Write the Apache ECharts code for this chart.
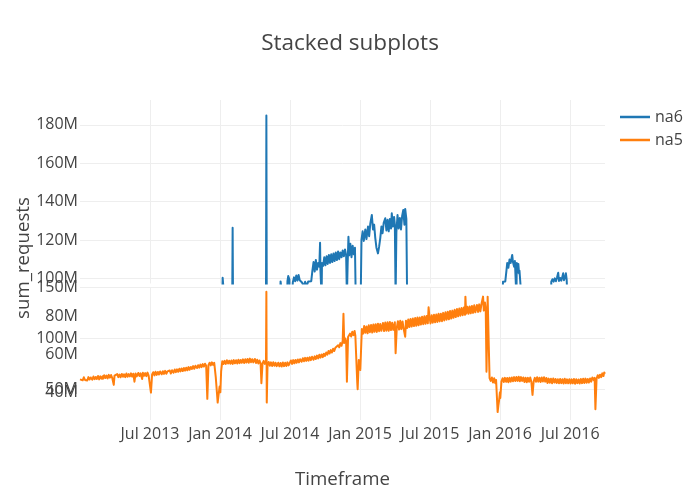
<!DOCTYPE html>
<html><head><meta charset="utf-8">
<script src="https://cdn.jsdelivr.net/npm/echarts/dist/echarts.min.js"></script>
<style>html,body{margin:0;padding:0;background:#fff}#chart{width:700px;height:500px}</style>
</head><body><div id="chart"></div>
<script>
const titleText = 'Stacked subplots';
const xTitle = 'Timeframe';
const yTitle = 'sum_requests';
const seriesNames = ['na6', 'na5'];
const xTickLabels = ['Jul 2013', 'Jan 2014', 'Jul 2014', 'Jan 2015', 'Jul 2015', 'Jan 2016', 'Jul 2016'];
const xRange = ['2012-12-31', '2016-09-30'];
const xLastTick = '2016-07-01';
const topTicks = [100, 120, 140, 160, 180];
const bottomTicksA = [50, 100, 150];
const bottomTicksB = [40, 60, 80];

// na6 (millions) - top subplot
const na6 = [
['2014-01-06',90],['2014-01-07',100.3],['2014-01-10',100.2],['2014-01-11',90],
['2014-02-01',90],['2014-02-02',126.4],['2014-02-03',90],
['2014-04-30',90],['2014-05-01',184.9],['2014-05-02',90],
['2014-06-06',90],['2014-06-07',98.4],['2014-06-11',98.2],['2014-06-12',90],
['2014-06-24',90],['2014-06-25',98.5],['2014-06-27',101.2],['2014-06-30',99.5],['2014-07-01',90],
['2014-07-07',90],['2014-07-09',98.0],['2014-07-12',100.5],['2014-07-15',98.5],['2014-07-18',101.5],['2014-07-21',98.8],['2014-07-24',101.7],['2014-07-27',99.0],['2014-07-30',98.0],
['2014-08-02',97.8],['2014-08-06',96.0],['2014-08-10',98.2],['2014-08-14',96.0],['2014-08-18',98.3],['2014-08-22',97.9],
['2014-08-26',98.5],['2014-08-29',104.0],['2014-09-01',108.5],['2014-09-04',103.5],['2014-09-07',109.6],['2014-09-10',104.5],['2014-09-13',108.0],['2014-09-16',106.0],['2014-09-18',118.6],['2014-09-19',104.0],['2014-09-21',105.0],['2014-09-22',90],['2014-09-23',108.0],
['2014-09-26',106.5],['2014-09-29',111.0],['2014-10-02',106.8],['2014-10-05',111.5],['2014-10-08',107.5],['2014-10-11',112.2],['2014-10-14',108.0],['2014-10-17',112.5],['2014-10-20',108.5],['2014-10-23',113.0],['2014-10-26',109.0],['2014-10-29',113.5],
['2014-11-01',109.5],['2014-11-04',114.0],['2014-11-07',110.0],['2014-11-10',113.5],['2014-11-13',111.0],['2014-11-16',114.5],['2014-11-19',111.5],['2014-11-22',115.0],['2014-11-25',112.0],['2014-11-27',90],['2014-11-29',108.0],
['2014-12-01',121.7],['2014-12-03',112.0],['2014-12-06',118.0],['2014-12-09',111.0],['2014-12-12',117.0],['2014-12-15',112.5],['2014-12-18',116.0],['2014-12-20',90],
['2015-01-02',90],['2015-01-04',120.0],['2015-01-07',124.5],['2015-01-10',119.5],['2015-01-14',125.5],['2015-01-17',120.5],['2015-01-21',127.0],['2015-01-24',122.0],['2015-01-27',128.5],['2015-01-31',133.0],
['2015-02-03',125.5],['2015-02-06',128.0],['2015-02-09',121.0],['2015-02-12',116.0],['2015-02-16',113.0],['2015-02-19',116.5],['2015-02-22',121.0],['2015-02-25',127.0],['2015-02-28',123.5],
['2015-03-03',129.0],['2015-03-07',131.3],['2015-03-10',125.0],['2015-03-13',130.5],['2015-03-16',124.5],['2015-03-19',131.0],['2015-03-22',126.0],['2015-03-24',133.9],['2015-03-27',127.0],['2015-03-30',132.0],
['2015-04-01',128.0],['2015-04-03',90],['2015-04-05',124.0],['2015-04-08',133.0],['2015-04-11',126.0],['2015-04-14',131.5],['2015-04-17',125.5],['2015-04-20',132.5],['2015-04-23',135.6],['2015-04-26',128.0],['2015-04-28',136.2],['2015-05-01',131.0],['2015-05-03',90],
['2016-01-07',90],['2016-01-08',98.2],['2016-01-14',98.4],['2016-01-17',104.0],['2016-01-19',108.0],['2016-01-22',105.5],['2016-01-25',109.8],['2016-01-28',108.0],
['2016-02-01',112.2],['2016-02-03',108.5],['2016-02-06',106.0],['2016-02-08',109.0],['2016-02-12',90],['2016-02-13',108.0],['2016-02-15',103.0],['2016-02-17',107.5],['2016-02-19',102.5],['2016-02-20',104.0],['2016-02-25',90],
['2016-05-12',90],['2016-05-13',98.2],['2016-05-16',99.5],['2016-05-19',98.3],['2016-05-22',100.0],['2016-05-25',98.5],['2016-05-28',100.5],['2016-05-31',102.9],
['2016-06-02',98.6],['2016-06-05',100.2],['2016-06-08',98.8],['2016-06-11',101.0],['2016-06-13',102.6],['2016-06-15',99.0],['2016-06-18',100.5],['2016-06-20',102.6],['2016-06-22',99.5],['2016-06-24',90]
];

// na5 (millions) - bottom subplot
const na5 = [
['2012-12-31',46.8],
['2013-01-01',46.0],['2013-01-04',47.6],['2013-01-07',46.3],['2013-01-10',47.9],['2013-01-13',46.5],['2013-01-16',47.4],['2013-01-19',46.2],['2013-01-22',48.0],['2013-01-25',46.7],['2013-01-28',47.8],
['2013-02-01',46.6],['2013-02-04',48.3],['2013-02-07',46.9],['2013-02-10',48.1],['2013-02-13',47.0],['2013-02-16',48.6],['2013-02-19',46.8],['2013-02-22',48.4],['2013-02-25',47.2],['2013-02-28',48.5],
['2013-03-01',47.1],['2013-03-04',49.0],['2013-03-07',47.5],['2013-03-10',48.8],['2013-03-13',47.3],['2013-03-16',49.2],['2013-03-19',47.7],['2013-03-22',49.1],['2013-03-25',47.6],['2013-03-29',43.9],['2013-03-31',48.8],
['2013-04-01',49.4],['2013-04-04',47.8],['2013-04-07',49.6],['2013-04-10',48.0],['2013-04-13',49.3],['2013-04-16',47.9],['2013-04-19',49.7],['2013-04-22',48.2],['2013-04-25',49.5],['2013-04-28',48.0],
['2013-05-01',49.9],['2013-05-04',48.2],['2013-05-07',49.6],['2013-05-10',48.4],['2013-05-13',50.0],['2013-05-16',48.3],['2013-05-19',49.8],['2013-05-22',45.6],['2013-05-25',49.9],['2013-05-28',48.4],
['2013-06-01',50.2],['2013-06-04',48.6],['2013-06-07',50.0],['2013-06-11',47.0],['2013-06-13',50.3],['2013-06-16',48.7],['2013-06-19',50.1],['2013-06-22',48.5],['2013-06-25',50.4],['2013-06-28',48.8],
['2013-07-01',49.2],['2013-07-04',39.8],['2013-07-07',49.4],['2013-07-10',50.6],['2013-07-13',48.9],['2013-07-16',50.8],['2013-07-19',49.2],['2013-07-22',50.7],['2013-07-25',49.4],['2013-07-28',51.0],
['2013-08-01',49.5],['2013-08-04',51.1],['2013-08-07',49.7],['2013-08-10',51.3],['2013-08-13',49.8],['2013-08-16',51.0],['2013-08-19',50.1],['2013-08-22',51.5],['2013-08-25',49.9],['2013-08-28',51.6],
['2013-09-01',50.3],['2013-09-04',52.0],['2013-09-07',50.6],['2013-09-10',52.1],['2013-09-13',50.8],['2013-09-16',52.4],['2013-09-19',51.0],['2013-09-22',52.6],['2013-09-25',51.2],['2013-09-28',52.8],
['2013-10-01',51.4],['2013-10-04',53.0],['2013-10-07',51.6],['2013-10-10',53.3],['2013-10-13',51.9],['2013-10-16',53.4],['2013-10-19',52.3],['2013-10-22',53.8],['2013-10-25',52.4],['2013-10-28',54.0],
['2013-11-01',52.8],['2013-11-04',54.3],['2013-11-07',53.0],['2013-11-10',54.6],['2013-11-13',53.3],['2013-11-16',54.9],['2013-11-19',53.6],['2013-11-22',55.1],['2013-11-25',54.0],['2013-11-28',36.5],
['2013-12-01',54.3],['2013-12-04',55.6],['2013-12-07',54.2],['2013-12-10',55.8],['2013-12-13',54.5],['2013-12-16',55.6],['2013-12-20',48.0],['2013-12-23',40.0],['2013-12-25',34.5],['2013-12-27',38.0],['2013-12-30',43.0],
['2014-01-01',40.0],['2014-01-03',51.0],['2014-01-06',56.4],['2014-01-09',54.9],['2014-01-12',56.6],['2014-01-15',55.0],['2014-01-18',56.9],['2014-01-21',55.2],['2014-01-24',56.7],['2014-01-27',55.1],['2014-01-30',56.8],
['2014-02-02',55.0],['2014-02-05',57.0],['2014-02-08',55.3],['2014-02-11',56.9],['2014-02-14',55.2],['2014-02-17',57.2],['2014-02-20',55.4],['2014-02-23',57.1],['2014-02-26',55.6],
['2014-03-01',57.4],['2014-03-04',55.5],['2014-03-07',57.5],['2014-03-10',55.7],['2014-03-13',57.6],['2014-03-16',55.6],['2014-03-19',57.8],['2014-03-22',55.9],['2014-03-25',57.5],['2014-03-28',55.8],
['2014-04-01',57.6],['2014-04-04',55.5],['2014-04-07',57.2],['2014-04-10',55.2],['2014-04-13',56.8],['2014-04-16',55.0],['2014-04-18',44.8],['2014-04-21',55.4],['2014-04-24',56.6],['2014-04-27',55.0],['2014-04-30',56.2],
['2014-05-01',93.2],['2014-05-02',34.5],['2014-05-04',54.3],['2014-05-07',56.0],['2014-05-10',54.0],['2014-05-13',55.8],['2014-05-16',53.9],['2014-05-19',55.9],['2014-05-22',54.0],['2014-05-25',55.6],['2014-05-28',53.8],
['2014-06-01',55.6],['2014-06-04',53.7],['2014-06-07',55.5],['2014-06-10',53.6],['2014-06-13',55.7],['2014-06-16',53.8],['2014-06-19',55.6],['2014-06-22',53.9],['2014-06-25',55.8],['2014-06-28',54.2],
['2014-07-01',55.1],['2014-07-04',56.8],['2014-07-07',55.0],['2014-07-10',57.0],['2014-07-13',55.3],['2014-07-16',57.1],['2014-07-19',55.6],['2014-07-22',57.3],['2014-07-25',55.8],['2014-07-28',57.5],
['2014-08-01',56.2],['2014-08-04',58.0],['2014-08-07',56.4],['2014-08-10',58.2],['2014-08-13',56.6],['2014-08-16',58.3],['2014-08-19',56.7],['2014-08-22',58.5],['2014-08-25',57.0],['2014-08-28',58.8],
['2014-09-01',57.2],['2014-09-04',59.0],['2014-09-07',57.6],['2014-09-10',59.4],['2014-09-13',57.9],['2014-09-16',59.8],['2014-09-19',58.3],['2014-09-22',60.0],['2014-09-25',58.6],['2014-09-28',60.4],
['2014-10-01',59.2],['2014-10-04',61.0],['2014-10-07',59.9],['2014-10-10',61.8],['2014-10-13',60.5],['2014-10-16',62.3],['2014-10-19',61.0],['2014-10-22',63.0],['2014-10-25',61.8],['2014-10-28',63.6],
['2014-11-01',62.8],['2014-11-04',64.9],['2014-11-07',63.8],['2014-11-10',66.0],['2014-11-13',64.6],['2014-11-16',67.2],['2014-11-18',81.5],['2014-11-20',66.0],['2014-11-23',68.4],['2014-11-25',67.0],['2014-11-27',45.6],['2014-11-30',69.2],
['2014-12-02',68.5],['2014-12-05',71.0],['2014-12-08',69.5],['2014-12-11',72.0],['2014-12-14',70.2],['2014-12-17',72.4],['2014-12-19',70.0],['2014-12-21',60.0],['2014-12-24',45.0],['2014-12-25',41.6],['2014-12-28',57.0],['2014-12-31',55.0],
['2015-01-01',51.8],['2015-01-03',63.0],['2015-01-05',73.5],['2015-01-08',71.0],['2015-01-11',75.0],['2015-01-14',71.5],['2015-01-17',74.8],['2015-01-20',71.2],['2015-01-23',75.4],['2015-01-26',71.8],['2015-01-29',75.6],
['2015-02-01',71.6],['2015-02-04',75.9],['2015-02-07',72.0],['2015-02-10',76.0],['2015-02-13',71.9],['2015-02-16',76.3],['2015-02-19',72.3],['2015-02-22',76.1],['2015-02-25',72.5],
['2015-03-01',76.7],['2015-03-04',72.4],['2015-03-07',76.9],['2015-03-10',72.6],['2015-03-13',77.0],['2015-03-16',72.5],['2015-03-19',77.2],['2015-03-22',72.9],['2015-03-25',76.8],['2015-03-28',73.0],
['2015-04-01',77.0],['2015-04-03',60.6],['2015-04-06',74.0],['2015-04-09',77.6],['2015-04-12',73.2],['2015-04-15',77.8],['2015-04-18',73.4],['2015-04-21',77.5],['2015-04-24',73.6],['2015-04-28',69.4],['2015-04-30',77.9],
['2015-05-03',74.0],['2015-05-06',78.5],['2015-05-09',74.5],['2015-05-12',78.8],['2015-05-15',74.8],['2015-05-18',79.0],['2015-05-21',75.0],['2015-05-24',79.3],['2015-05-27',75.2],['2015-05-30',79.5],
['2015-06-02',75.4],['2015-06-05',79.6],['2015-06-08',75.8],['2015-06-11',80.0],['2015-06-14',76.0],['2015-06-17',80.2],['2015-06-20',76.2],['2015-06-23',80.4],['2015-06-26',76.5],['2015-06-28',85.0],['2015-06-30',80.3],
['2015-07-03',76.4],['2015-07-06',80.8],['2015-07-09',76.8],['2015-07-12',81.0],['2015-07-15',77.0],['2015-07-18',81.2],['2015-07-21',77.2],['2015-07-24',81.5],['2015-07-27',77.5],['2015-07-30',81.6],
['2015-08-02',77.6],['2015-08-05',82.0],['2015-08-08',78.0],['2015-08-11',82.3],['2015-08-14',78.4],['2015-08-17',82.6],['2015-08-20',78.6],['2015-08-23',83.0],['2015-08-26',79.0],['2015-08-29',83.2],
['2015-09-01',79.4],['2015-09-04',83.6],['2015-09-07',79.8],['2015-09-10',84.0],['2015-09-13',80.2],['2015-09-16',84.3],['2015-09-19',80.5],['2015-09-22',84.6],['2015-09-25',80.8],['2015-09-28',84.8],
['2015-10-01',81.0],['2015-10-02',90.6],['2015-10-04',81.6],['2015-10-07',85.2],['2015-10-10',81.5],['2015-10-13',85.4],['2015-10-16',81.8],['2015-10-19',85.7],['2015-10-22',82.0],['2015-10-25',86.0],['2015-10-28',82.3],
['2015-11-01',86.2],['2015-11-04',82.5],['2015-11-07',86.5],['2015-11-10',82.8],['2015-11-13',86.8],['2015-11-17',90.6],['2015-11-19',83.2],['2015-11-22',87.5],['2015-11-24',84.0],['2015-11-26',50.9],['2015-11-29',90.6],
['2015-12-02',64.0],['2015-12-04',47.5],['2015-12-07',46.0],['2015-12-10',47.8],['2015-12-13',45.2],['2015-12-16',47.4],['2015-12-19',44.8],['2015-12-21',46.5],['2015-12-23',38.0],['2015-12-25',29.5],['2015-12-27',33.0],['2015-12-29',36.0],['2015-12-31',40.0],
['2016-01-01',37.0],['2016-01-04',45.8],['2016-01-07',47.4],['2016-01-10',45.4],['2016-01-13',47.6],['2016-01-16',45.5],['2016-01-19',47.5],['2016-01-22',45.3],['2016-01-25',47.7],['2016-01-28',45.6],['2016-01-31',47.8],
['2016-02-03',45.8],['2016-02-06',48.0],['2016-02-09',45.9],['2016-02-12',48.1],['2016-02-15',46.0],['2016-02-18',48.2],['2016-02-21',45.8],['2016-02-24',48.0],['2016-02-27',46.0],
['2016-03-01',47.8],['2016-03-04',45.4],['2016-03-07',47.7],['2016-03-10',45.3],['2016-03-13',47.6],['2016-03-16',45.5],['2016-03-19',47.8],['2016-03-22',45.4],['2016-03-25',38.6],['2016-03-28',45.8],['2016-03-31',47.6],
['2016-04-03',45.5],['2016-04-06',47.9],['2016-04-09',45.6],['2016-04-12',47.7],['2016-04-15',45.4],['2016-04-18',47.8],['2016-04-21',45.7],['2016-04-24',47.9],['2016-04-27',45.6],['2016-04-30',47.5],
['2016-05-03',44.9],['2016-05-06',47.2],['2016-05-09',45.0],['2016-05-12',47.1],['2016-05-15',44.8],['2016-05-18',47.3],['2016-05-21',45.1],['2016-05-24',47.0],['2016-05-27',44.9],['2016-05-30',46.9],
['2016-06-02',44.7],['2016-06-05',47.0],['2016-06-08',44.8],['2016-06-11',46.9],['2016-06-14',44.6],['2016-06-17',47.1],['2016-06-20',44.8],['2016-06-23',46.8],['2016-06-26',44.7],['2016-06-29',46.9],
['2016-07-02',44.6],['2016-07-05',46.8],['2016-07-08',44.7],['2016-07-11',47.0],['2016-07-14',44.5],['2016-07-17',46.9],['2016-07-20',44.8],['2016-07-23',46.7],['2016-07-26',44.6],['2016-07-29',47.0],
['2016-08-01',44.8],['2016-08-04',47.1],['2016-08-07',44.9],['2016-08-10',47.2],['2016-08-13',45.0],['2016-08-16',47.0],['2016-08-19',45.1],['2016-08-22',47.3],['2016-08-25',45.6],['2016-08-28',47.8],
['2016-09-01',46.4],['2016-09-03',47.6],['2016-09-05',31.0],['2016-09-08',47.2],['2016-09-11',49.0],['2016-09-14',47.6],['2016-09-17',49.3],['2016-09-20',48.0],['2016-09-23',50.0],['2016-09-26',48.6],['2016-09-28',50.5],['2016-09-30',49.8]
];

const day = s => Date.parse(s + 'T00:00:00Z') / 864e5;
const xMin = day(xRange[0]), xMax = day(xRange[1]);
const xInterval = (day(xLastTick) - xMin) / xTickLabels.length;
const toXY = arr => arr.map(p => [day(p[0]), p[1]]);
const near = (v, list) => list.find(t => Math.abs(v - t) < 1e-6);
const FONT = 'Open Sans';
const GREY = '#444';
const GRID = '#eee';
const NONE = 'rgba(0,0,0,0)';

function xLabel(v) {
  const k = Math.round((v - xMin) / xInterval);
  if (k >= 1 && k <= xTickLabels.length && Math.abs(v - (xMin + k * xInterval)) < 1e-3) return xTickLabels[k - 1];
  return '';
}
function yLabel(list) {
  return v => { const t = near(v, list); return t === undefined ? '' : t + 'M'; };
}
const labelStyle = { color: GREY, fontSize: 16, fontFamily: FONT };

function xAxis(gridIndex, showLabels) {
  return {
    type: 'value', gridIndex, min: xMin, max: xMax, interval: xInterval,
    axisLine: { show: false }, axisTick: { show: false },
    axisLabel: Object.assign({ show: showLabels, formatter: xLabel, margin: 6 }, labelStyle),
    splitLine: { show: true, showMinLine: false, showMaxLine: false, lineStyle: { color: GRID, width: 1 } }
  };
}

const option = {
  animation: false,
  backgroundColor: '#fff',
  title: { text: titleText, left: 'center', top: 27, textStyle: { color: GREY, fontSize: 22.5, fontFamily: FONT, fontWeight: 'normal' } },
  legend: {
    data: seriesNames, orient: 'vertical', left: 620, top: 109, padding: 0, icon: 'rect', itemWidth: 30, itemHeight: 2.5,
    itemGap: 7, itemTextGap: 7, textStyle: { color: GREY, fontSize: 16, fontFamily: FONT, lineHeight: 16 }
  },
  grid: [
    { left: 80, right: 95, top: 100, height: 183.5, containLabel: false },
    { left: 80, right: 95, top: 287, height: 133, containLabel: false }
  ],
  xAxis: [xAxis(0, false), xAxis(1, true)],
  yAxis: [
    { type: 'value', gridIndex: 0, min: 97.3, max: 193, position: 'left',
      axisLine: { show: false }, axisTick: { show: false },
      axisLabel: Object.assign({ formatter: yLabel(topTicks), margin: 2 }, labelStyle),
      splitLine: { show: true, showMinLine: false, showMaxLine: false, lineStyle: { color: GRID, width: 1 } } },
    { type: 'value', gridIndex: 1, min: 20, max: 150, interval: 10, position: 'left',
      axisLine: { show: false }, axisTick: { show: false },
      axisLabel: Object.assign({ formatter: yLabel(bottomTicksA), margin: 2 }, labelStyle),
      splitLine: { show: true, lineStyle: { color: [NONE, NONE, NONE, GRID, NONE], width: 1 } } },
    { type: 'value', gridIndex: 1, min: 25.3, max: 95.7, position: 'left', offset: 0,
      axisLine: { show: false }, axisTick: { show: false },
      axisLabel: Object.assign({ formatter: yLabel(bottomTicksB), margin: 2 }, labelStyle),
      splitLine: { show: false } }
  ],
  series: [
    { name: seriesNames[0], type: 'line', xAxisIndex: 0, yAxisIndex: 0, data: toXY(na6),
      showSymbol: false, symbol: 'none', clip: true, color: '#1f77b4',
      lineStyle: { width: 2, color: '#1f77b4', join: 'round' } },
    { name: seriesNames[1], type: 'line', xAxisIndex: 1, yAxisIndex: 2, data: toXY(na5),
      showSymbol: false, symbol: 'none', clip: true, color: '#ff7f0e',
      lineStyle: { width: 2, color: '#ff7f0e', join: 'round' } }
  ],
  graphic: [
    { type: 'text', x: 24, y: 258, rotation: Math.PI / 2,
      style: { text: yTitle, fill: GREY, fontSize: 18.7, fontFamily: FONT, align: 'center', verticalAlign: 'middle', textAlign: 'center', textVerticalAlign: 'middle' } },
    { type: 'text', x: 342.5, y: 480,
      style: { text: xTitle, fill: GREY, fontSize: 18.7, fontFamily: FONT, align: 'center', verticalAlign: 'middle', textAlign: 'center', textVerticalAlign: 'middle' } }
  ]
};
const chart = echarts.init(document.getElementById('chart'), null, { renderer: 'canvas' });
chart.setOption(option);
</script>
</body></html>
